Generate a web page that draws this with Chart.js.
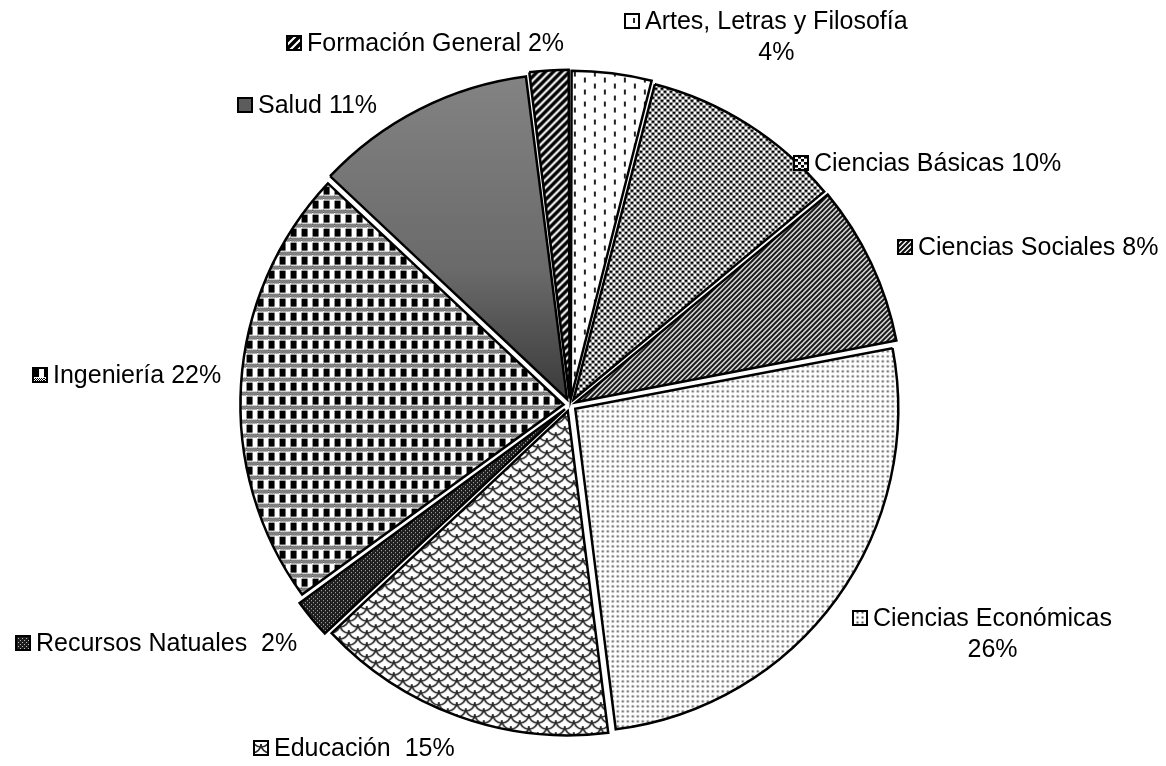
<!DOCTYPE html>
<html>
<head>
<meta charset="utf-8">
<script src="https://cdn.jsdelivr.net/npm/chart.js@4.4.0/dist/chart.umd.min.js"></script>
<style>
  body { margin: 0; background: #fff; }
</style>
</head>
<body>
<canvas id="myPieChart" width="1166" height="766"></canvas>
<script>
// Chart data (percent of total, clockwise from 12 o'clock)
var categories = ['Artes, Letras y Filosofía', 'Ciencias Básicas', 'Ciencias Sociales', 'Ciencias Económicas',
                  'Educación ', 'Recursos Natuales ', 'Ingeniería', 'Salud', 'Formación General'];
var shares = [4, 10, 8, 26, 15, 2, 22, 11, 2];

// small helper to build a repeating fill from a tile
function makePattern(w, h, draw) {
    var c = document.createElement('canvas');
    c.width = w;
    c.height = h;
    var t = c.getContext('2d');
    t.fillStyle = '#fff';
    t.fillRect(0, 0, w, h);
    draw(t, w, h);
    return t.createPattern(c, 'repeat');
}

function upDiagonal(t, s, lw, color) {
    t.strokeStyle = color;
    t.lineWidth = lw;
    t.beginPath();
    t.moveTo(0, s); t.lineTo(s, 0);
    t.moveTo(-1, 1); t.lineTo(1, -1);
    t.moveTo(s - 1, s + 1); t.lineTo(s + 1, s - 1);
    t.stroke();
}

var ctx = document.getElementById('myPieChart').getContext('2d');

// one fill per slice, same order as categories
var dashesFill = makePattern(20, 12, function (t) {
    t.fillStyle = '#222';
    t.fillRect(3, 0, 2, 5);
    t.fillRect(13, 6, 2, 5);
});
var confettiFill = makePattern(6, 6, function (t) {
    t.fillStyle = '#000';
    t.fillRect(0, 0, 3, 2.6);
    t.fillRect(3, 3, 3, 2.6);
});
var stripeFill = makePattern(5, 5, function (t, w) {
    upDiagonal(t, w, 2.2, '#111');
});
var dotsFill = makePattern(5, 5, function (t) {
    t.fillStyle = '#555';
    t.fillRect(1.5, 1.5, 2, 2);
});
var shingleFill = makePattern(18, 12, function (t) {
    t.strokeStyle = '#2a2a2a';
    t.lineWidth = 1.6;
    [[0, 0], [18, 0], [9, 6], [0, 12], [18, 12], [9, -6]].forEach(function (p) {
        t.beginPath();
        t.arc(p[0], p[1], 9, 0, Math.PI);
        t.stroke();
    });
});
var darkGridFill = makePattern(4, 4, function (t) {
    t.fillStyle = '#1e1e1e';
    t.fillRect(0, 0, 4, 4);
    t.fillStyle = '#bbb';
    t.fillRect(0, 0, 1, 1);
    t.fillRect(2, 2, 1, 1);
});
var plaidFill = makePattern(11, 14, function (t) {
    t.fillStyle = '#000';
    for (var y = 0; y < 4; y++) {
        for (var x = 0; x < 11; x++) {
            if ((x + y) % 2 === 0) t.fillRect(x, y, 1, 1);
        }
    }
    t.fillRect(0, 5, 6, 8);
});
var wideStripeFill = makePattern(8, 8, function (t, w) {
    upDiagonal(t, w, 3.5, '#000');
});

// Salud uses a vertical grey gradient, built once the chart area is known
function saludGradient(chart) {
    var area = chart.chartArea;
    if (!area) return '#666';
    var cy = (area.top + area.bottom) / 2;
    var g = chart.ctx.createLinearGradient(0, cy - 325, 0, cy);
    g.addColorStop(0, '#838383');
    g.addColorStop(0.6, '#6a6a6a');
    g.addColorStop(1, '#3a3a3a');
    return g;
}

var fills = [dashesFill, confettiFill, stripeFill, dotsFill, shingleFill, darkGridFill, plaidFill, null, wideStripeFill];
var keyFills = fills.slice();
keyFills[7] = '#5c5c5c';

// labels drawn next to the pie with a small key square
var pieLabels = {
    id: 'pieLabels',
    afterDraw: function (chart, args, opts) {
        var c = chart.ctx;
        var values = chart.data.datasets[0].data;
        c.save();
        c.font = opts.font;
        c.textBaseline = 'alphabetic';
        chart.data.labels.forEach(function (name, i) {
            var pos = opts.layout[i];
            var key = opts.keySize;
            var keyTop = pos.y - key;
            c.fillStyle = keyFills[i];
            c.fillRect(pos.x, keyTop, key, key);
            c.lineWidth = 2;
            c.strokeStyle = '#000';
            c.strokeRect(pos.x + 1, keyTop + 1, key - 2, key - 2);

            var lines = pos.wrap ? [name, values[i] + '%'] : [name + ' ' + values[i] + '%'];
            var textX = pos.x + key + 5;
            var mid = textX + c.measureText(lines[0]).width / 2;
            c.fillStyle = '#000';
            c.textAlign = 'center';
            lines.forEach(function (line, k) {
                c.fillText(line, mid, pos.y + k * opts.lineHeight);
            });
        });
        c.restore();
    }
};

var data = {
    labels: categories,
    datasets: [{
        data: shares,
        backgroundColor: function (context) {
            if (context.dataIndex === 7) return saludGradient(context.chart);
            return fills[context.dataIndex];
        },
        borderColor: '#000',
        borderWidth: 2.5,
        borderJoinStyle: 'miter',
        offset: 26 // chart.js moves each slice out by offset / 4
    }]
};

var options = {
    responsive: false,
    animation: false,
    radius: 323,
    layout: {
        padding: { left: 0, right: 26, top: 44, bottom: 0 }
    },
    plugins: {
        legend: { display: false },
        tooltip: { enabled: false },
        pieLabels: {
            font: '25px "Liberation Sans", Arial, sans-serif',
            keySize: 16,
            lineHeight: 31,
            layout: [
                { x: 624, y: 29, wrap: true },
                { x: 793, y: 171 },
                { x: 897, y: 255 },
                { x: 852, y: 626, wrap: true },
                { x: 253, y: 756 },
                { x: 15, y: 651 },
                { x: 32, y: 383 },
                { x: 237, y: 113 },
                { x: 286, y: 51 }
            ]
        }
    }
};

var myPieChart = new Chart(ctx, {
    type: 'pie',
    data: data,
    options: options,
    plugins: [pieLabels]
});
</script>
</body>
</html>
